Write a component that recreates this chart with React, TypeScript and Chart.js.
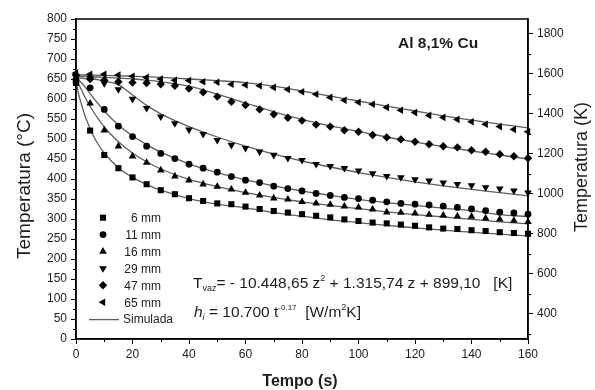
import React, { useEffect, useRef } from 'react';
import { Chart, registerables } from 'chart.js';

Chart.register(...registerables);

// ---------- data ----------
const TIME_EXP = [0, 5, 10, 15, 20, 25, 30, 35, 40, 45, 50, 55, 60, 65, 70, 75, 80, 85, 90, 95, 100, 105, 110, 115, 120, 125, 130, 135, 140, 145, 150, 155, 160];

const EXP_6MM = [640, 521, 460, 427, 404, 387, 372, 362, 352, 345, 339, 337, 331, 325, 320, 316, 312, 308, 304, 299, 295, 291, 289, 286, 283, 279, 276, 275, 272, 270, 267, 265, 263];
const EXP_11MM = [648, 628, 574, 532, 506, 482, 464, 451, 437, 427, 417, 406, 397, 391, 382, 376, 370, 364, 359, 354, 351, 347, 343, 339, 337, 335, 332, 329, 325, 321, 317, 315, 312];
const EXP_16MM = [645, 589, 522, 482, 457, 441, 422, 407, 397, 387, 381, 374, 366, 359, 352, 349, 343, 339, 336, 332, 329, 324, 317, 316, 314, 311, 309, 307, 306, 302, 299, 296, 293];
const EXP_29MM = [655, 652, 639, 624, 600, 577, 556, 539, 523, 512, 497, 485, 477, 468, 460, 452, 447, 437, 432, 427, 421, 414, 407, 404, 399, 396, 391, 387, 384, 379, 376, 371, 366];
const EXP_47MM = [660, 650, 647, 643, 641, 640, 637, 633, 626, 617, 606, 593, 585, 574, 562, 553, 546, 536, 531, 522, 518, 510, 504, 499, 493, 487, 482, 479, 472, 468, 462, 457, 452];
const EXP_65MM = [665, 662, 662, 660, 657, 654, 650, 647, 646, 643, 642, 637, 635, 633, 629, 624, 618, 612, 604, 597, 592, 587, 579, 572, 566, 559, 554, 549, 543, 537, 531, 524, 518];

const TIME_SIM = [0, 1, 2, 3, 4, 6, 8, 10, 15, 20, 25, 30, 40, 50, 60, 70, 80, 90, 100, 110, 120, 130, 140, 150, 160];

const SIM_6MM = [645, 610, 585, 562, 543, 510, 485, 465, 428, 404, 386, 372, 351, 337, 328, 316, 307, 298, 291, 284, 278, 272, 267, 262, 258];
const SIM_11MM = [652, 647, 640, 632, 623, 604, 587, 570, 535, 508, 486, 467, 438, 416, 398, 383, 370, 359, 349, 341, 334, 327, 321, 311, 306];
const SIM_16MM = [648, 636, 622, 607, 594, 570, 549, 530, 493, 465, 443, 425, 399, 381, 366, 354, 343, 334, 326, 318, 311, 305, 299, 293, 288];
const SIM_29MM = [652, 652, 652, 651, 651, 650, 648, 645, 636, 610, 584, 563, 531, 505, 482, 462, 445, 430, 416, 404, 393, 383, 374, 366, 358];
const SIM_47MM = [656, 656, 656, 656, 656, 655, 655, 654, 652, 650, 647, 643, 632, 612, 590, 568, 549, 533, 519, 505, 492, 481, 470, 460, 450];
const SIM_65MM = [660, 660, 660, 660, 660, 660, 659, 659, 658, 657, 656, 654, 650, 646, 641, 632, 620, 607, 595, 582, 570, 558, 547, 537, 528];

const SERIES_LABELS = ['6 mm', '11 mm', '16 mm', '29 mm', '47 mm', '65 mm'];
const SIM_LABEL = 'Simulada';

const X_TICKS = [0, 20, 40, 60, 80, 100, 120, 140, 160];
const X_MINOR = [10, 30, 50, 70, 90, 110, 130, 150];
const Y_TICKS = [0, 50, 100, 150, 200, 250, 300, 350, 400, 450, 500, 550, 600, 650, 700, 750, 800];
const Y_MINOR = [25, 75, 125, 175, 225, 275, 325, 375, 425, 475, 525, 575, 625, 675, 725, 775];
const K_TICKS = [400, 600, 800, 1000, 1200, 1400, 1600, 1800];
const K_MINOR = [300, 500, 700, 900, 1100, 1300, 1500, 1700];

const TITLE_TEXT = 'Al 8,1% Cu';

// ---------- styles ----------
const FONT = '"Liberation Sans", Arial, Helvetica, sans-serif';
const TEXT_COLOR = '#1c1c1c';
const LINE_COLOR = '#5e5e5e';

type MarkerStyle = { style: string; radius: number; rotation: number };
const MARKERS: MarkerStyle[] = [
  { style: 'rect', radius: 4.3, rotation: 0 },
  { style: 'circle', radius: 3.4, rotation: 0 },
  { style: 'triangle', radius: 4.4, rotation: 0 },
  { style: 'triangle', radius: 4.4, rotation: 180 },
  { style: 'rectRot', radius: 4.2, rotation: 0 },
  { style: 'triangle', radius: 4.4, rotation: 270 },
];

function drawMarker(ctx: CanvasRenderingContext2D, m: MarkerStyle, x: number, y: number) {
  ctx.beginPath();
  const r = m.radius;
  if (m.style === 'rect') {
    const s = Math.SQRT1_2 * r;
    ctx.rect(x - s, y - s, 2 * s, 2 * s);
  } else if (m.style === 'circle') {
    ctx.arc(x, y, r, 0, Math.PI * 2);
  } else if (m.style === 'rectRot') {
    ctx.moveTo(x, y - r);
    ctx.lineTo(x + r, y);
    ctx.lineTo(x, y + r);
    ctx.lineTo(x - r, y);
    ctx.closePath();
  } else {
    let rad = (m.rotation * Math.PI) / 180;
    for (let i = 0; i < 3; i++) {
      const px = x + Math.sin(rad) * r;
      const py = y - Math.cos(rad) * r;
      if (i === 0) ctx.moveTo(px, py);
      else ctx.lineTo(px, py);
      rad += (2 * Math.PI) / 3;
    }
    ctx.closePath();
  }
  ctx.fill();
}

type Seg = { t: string; size: number; dy?: number; italic?: boolean; bold?: boolean };
function drawRich(ctx: CanvasRenderingContext2D, x: number, y: number, segs: Seg[]) {
  let cx = x;
  for (const s of segs) {
    ctx.font = `${s.italic ? 'italic ' : ''}${s.bold ? 'bold ' : ''}${s.size}px ${FONT}`;
    ctx.fillText(s.t, cx, y + (s.dy || 0));
    cx += ctx.measureText(s.t).width;
  }
}

const decorPlugin = {
  id: 'decor',
  afterDraw(chart: any) {
    const ctx: CanvasRenderingContext2D = chart.ctx;
    const { left, top, right, bottom } = chart.chartArea;
    const xs = chart.scales.x;
    const ys = chart.scales.y;
    const ks = chart.scales.yK;
    ctx.save();
    // frame
    ctx.strokeStyle = '#000';
    ctx.lineWidth = 1.5;
    ctx.strokeRect(left, top, right - left, bottom - top);
    // minor ticks
    ctx.lineWidth = 1;
    ctx.beginPath();
    for (const v of Y_MINOR) {
      const p = Math.round(ys.getPixelForValue(v)) + 0.5;
      ctx.moveTo(left, p);
      ctx.lineTo(left - 3, p);
    }
    for (const v of X_MINOR) {
      const p = Math.round(xs.getPixelForValue(v)) + 0.5;
      ctx.moveTo(p, bottom);
      ctx.lineTo(p, bottom + 3);
    }
    for (const v of K_MINOR) {
      const p = Math.round(ks.getPixelForValue(v)) + 0.5;
      ctx.moveTo(right, p);
      ctx.lineTo(right + 3, p);
    }
    ctx.stroke();

    ctx.fillStyle = TEXT_COLOR;
    ctx.textBaseline = 'alphabetic';

    // axis titles
    ctx.textAlign = 'center';
    ctx.font = `bold 16px ${FONT}`;
    ctx.fillText('Tempo (s)', (left + right) / 2 - 2, 386);

    ctx.save();
    ctx.translate(30, 186);
    ctx.rotate(-Math.PI / 2);
    ctx.font = `19px ${FONT}`;
    ctx.fillText('Temperatura (°C)', 0, 0);
    ctx.restore();

    ctx.save();
    ctx.translate(587, 167);
    ctx.rotate(-Math.PI / 2);
    ctx.font = `18px ${FONT}`;
    ctx.fillText('Temperatura (K)', 0, 0);
    ctx.restore();

    // alloy label
    ctx.textAlign = 'left';
    ctx.font = `bold 15.5px ${FONT}`;
    ctx.fillText(TITLE_TEXT, 398, 48);

    // equations
    drawRich(ctx, 193, 287.5, [
      { t: 'T', size: 15.5 },
      { t: 'vaz', size: 9, dy: 3 },
      { t: '= - 10.448,65 z', size: 15.5 },
      { t: '2', size: 9, dy: -7 },
      { t: ' + 1.315,74 z + 899,10   [K]', size: 15.5 },
    ]);
    drawRich(ctx, 194, 317, [
      { t: 'h', size: 15.5, italic: true },
      { t: 'i', size: 9, dy: 3, italic: true },
      { t: ' = 10.700 t', size: 15.5 },
      { t: '-0.17', size: 8, dy: -7 },
      { t: '  [W/m', size: 15.5 },
      { t: '2', size: 9, dy: -7 },
      { t: 'K]', size: 15.5 },
    ]);

    // legend
    const rows = [217.7, 234.6, 251.5, 268.4, 285.3, 302.2, 319.1];
    ctx.font = `12px ${FONT}`;
    SERIES_LABELS.forEach((lab, i) => {
      ctx.fillStyle = '#000';
      drawMarker(ctx, MARKERS[i], 103, rows[i]);
      ctx.fillStyle = TEXT_COLOR;
      ctx.textAlign = 'right';
      ctx.fillText(lab, 161, rows[i] + 4.3);
    });
    ctx.strokeStyle = LINE_COLOR;
    ctx.lineWidth = 1.3;
    ctx.beginPath();
    ctx.moveTo(89, rows[6] + 0.5);
    ctx.lineTo(119, rows[6] + 0.5);
    ctx.stroke();
    ctx.textAlign = 'left';
    ctx.fillText(SIM_LABEL, 123, rows[6] + 4.3);

    ctx.restore();
  },
};

function pts(xs: number[], ys: number[]) {
  return xs.map((x, i) => ({ x, y: ys[i] }));
}

export default function App() {
  const ref = useRef<HTMLCanvasElement | null>(null);

  useEffect(() => {
    if (!ref.current) return;
    const exp = [EXP_6MM, EXP_11MM, EXP_16MM, EXP_29MM, EXP_47MM, EXP_65MM];
    const sim = [SIM_6MM, SIM_11MM, SIM_16MM, SIM_29MM, SIM_47MM, SIM_65MM];

    const datasets: any[] = [];
    exp.forEach((arr, i) => {
      datasets.push({
        label: SERIES_LABELS[i],
        data: pts(TIME_EXP, arr),
        showLine: false,
        pointStyle: MARKERS[i].style,
        pointRadius: MARKERS[i].radius,
        pointRotation: MARKERS[i].rotation,
        pointBackgroundColor: '#000',
        pointBorderColor: '#000',
        pointBorderWidth: 0,
        clip: false,
        order: 0,
      });
    });
    sim.forEach((arr, i) => {
      datasets.push({
        label: SIM_LABEL + ' ' + SERIES_LABELS[i],
        data: pts(TIME_SIM, arr),
        showLine: true,
        borderColor: LINE_COLOR,
        borderWidth: 1.3,
        pointRadius: 0,
        cubicInterpolationMode: 'monotone',
        order: 1,
      });
    });

    const tickFont = { family: FONT, size: 12 };
    const common = {
      grid: { drawOnChartArea: false, tickLength: 5, color: '#000', tickColor: '#000', tickWidth: 1 },
      border: { display: true, color: '#000', width: 1.5 },
    };

    const chart = new Chart(ref.current, {
      type: 'scatter',
      data: { datasets },
      plugins: [decorPlugin],
      options: {
        animation: false,
        responsive: false,
        devicePixelRatio: 1,
        layout: { padding: { top: 19, left: 0, right: 0, bottom: 0 } },
        plugins: { legend: { display: false }, tooltip: { enabled: false } },
        scales: {
          x: {
            type: 'linear',
            position: 'bottom',
            min: 0,
            max: 160,
            ...common,
            ticks: { font: tickFont, color: TEXT_COLOR, padding: 3, maxRotation: 0, autoSkip: false, callback: (v: any) => String(v) },
            afterBuildTicks: (s: any) => { s.ticks = X_TICKS.map((v) => ({ value: v })); },
            afterFit: (s: any) => { s.height = 51; },
          },
          y: {
            type: 'linear',
            position: 'left',
            min: 0,
            max: 800,
            ...common,
            ticks: { font: tickFont, color: TEXT_COLOR, padding: 4, autoSkip: false, callback: (v: any) => String(v) },
            afterBuildTicks: (s: any) => { s.ticks = Y_TICKS.map((v) => ({ value: v })); },
            afterFit: (s: any) => { s.width = 76; },
          },
          yK: {
            type: 'linear',
            position: 'right',
            display: true,
            min: 273,
            max: 1873,
            ...common,
            ticks: { font: tickFont, color: TEXT_COLOR, padding: 4, autoSkip: false, callback: (v: any) => String(v) },
            afterBuildTicks: (s: any) => { s.ticks = K_TICKS.map((v) => ({ value: v })); },
            afterFit: (s: any) => { s.width = 67; },
          },
        },
      } as any,
    });
    return () => chart.destroy();
  }, []);

  return (
    <div style={{ position: 'absolute', left: 0, top: 0, width: 595, height: 390, background: '#fff' }}>
      <canvas ref={ref} width={595} height={390} style={{ display: 'block', width: 595, height: 390 }} />
    </div>
  );
}
